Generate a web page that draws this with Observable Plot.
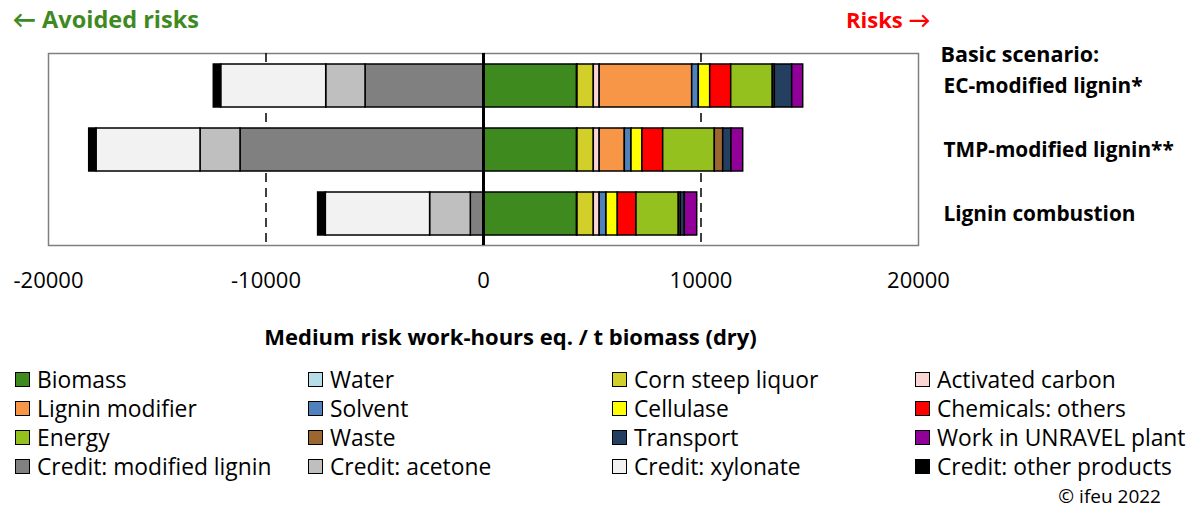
<!DOCTYPE html>
<html><head><meta charset="utf-8">
<script src="https://cdn.jsdelivr.net/npm/d3@7"></script>
<script src="https://cdn.jsdelivr.net/npm/@observablehq/plot@0.6"></script>
<style>
body{margin:0;background:#fff;font-family:"Open Sans",Lato,sans-serif;}
#wrap{position:relative;width:1199px;height:508px;overflow:hidden;}
#chart svg{display:block;}
#legend{position:absolute;left:15px;top:365px;display:grid;grid-template-columns:293px 304px 303px 290px;grid-auto-rows:29px;font-size:22.8px;color:#000;}
.item{display:flex;align-items:center;white-space:nowrap;}
.sw{width:13px;height:13px;border:1.5px solid #000;margin-right:7px;box-sizing:content-box;flex:none;}
#credit{position:absolute;right:38px;top:483px;font-size:19px;}
</style></head><body>
<div id="wrap"><div id="chart"></div><div id="legend"></div><div id="credit">© ifeu 2022</div></div>
<script>
const scenarios = ["EC-modified lignin*", "TMP-modified lignin**", "Lignin combustion"];
const categories = ["Biomass","Water","Corn steep liquor","Activated carbon","Lignin modifier","Solvent","Cellulase","Chemicals: others","Energy","Waste","Transport","Work in UNRAVEL plant","Credit: modified lignin","Credit: acetone","Credit: xylonate","Credit: other products"];
const colors = ["#3f8a1f","#b7dde8","#d3cf2a","#f9d6d4","#f79646","#4f81bd","#ffff00","#ff0000","#95c11f","#9c6631","#243f60","#92009a","#808080","#bfbfbf","#f2f2f2","#000000"];
const ecValues = [4300, 22, 749, 270, 4254, 304, 524, 966, 1912, 92, 800, 506, -5425, -1807, -4828, -340];
const tmpValues = [4300, 22, 749, 270, 1156, 308, 505, 952, 2373, 386, 381, 538, -11172, -1839, -4782, -336];
const combustionValues = [4300, 22, 749, 270, 0, 314, 520, 859, 1945, 92, 184, 570, -584, -1871, -4795, -354];
const xTicks = [-20000, -10000, 0, 10000, 20000];
const gridValues = [-10000, 10000];
const scenarioNote = "Basic scenario:";
const leftHeader = "\u2190 Avoided risks";
const rightHeader = "Risks \u2192";
const xTitle = "Medium risk work-hours eq. / t biomass (dry)";

const valueSets = [ecValues, tmpValues, combustionValues];
const rows = scenarios.flatMap((s, i) => categories.map((c, j) => ({scenario: s, category: c, value: valueSets[i][j]})));
const font = "'Open Sans', Lato, sans-serif";

const plot = Plot.plot({
  width: 1199,
  height: 360,
  marginTop: 53,
  marginBottom: 115,
  marginLeft: 48,
  marginRight: 281,
  style: {fontFamily: font, fontSize: "21px", color: "#000", background: "#fff"},
  x: {domain: [-20000, 20000]},
  y: {domain: scenarios, axis: null, paddingInner: 0.33, paddingOuter: 0.165},
  color: {domain: categories, range: colors},
  marks: [
    Plot.frame({stroke: "#7f7f7f", strokeWidth: 1.5}),
    Plot.ruleX(gridValues, {stroke: "#000", strokeWidth: 1.5, strokeDasharray: "9,6"}),
    Plot.barX(rows, Plot.stackX({x: "value", y: "scenario", fill: "category", stroke: "#000", strokeWidth: 1.5})),
    Plot.ruleX([0], {stroke: "#000", strokeWidth: 3}),
    Plot.axisX({ticks: xTicks, tickSize: 0, tickPadding: 27, tickFormat: d => String(d), fontSize: 22, label: null}),
    Plot.text(scenarios, {x: () => 20000, y: d => d, text: d => d, textAnchor: "start", dx: 25, fontWeight: "bold", fontSize: 20.8}),
    Plot.text([scenarioNote], {x: () => 20000, y: () => scenarios[0], text: d => d, textAnchor: "start", dx: 22, dy: -31, fontWeight: "bold", fontSize: 21.5}),
    Plot.text([leftHeader], {frameAnchor: "top-left", text: d => d, textAnchor: "start", lineAnchor: "middle", dx: -36, dy: -33, fill: "#3f8a1f", fontWeight: "bold", fontSize: 23.5}),
    Plot.text([rightHeader], {frameAnchor: "top-right", text: d => d, textAnchor: "end", lineAnchor: "middle", dx: 12, dy: -33, fill: "#ff0000", fontWeight: "bold", fontSize: 22}),
    Plot.text([xTitle], {frameAnchor: "bottom", text: d => d, textAnchor: "middle", lineAnchor: "middle", dx: 27, dy: 92, fontWeight: "bold", fontSize: 22})
  ]
});
document.getElementById("chart").appendChild(plot);

const legend = document.getElementById("legend");
categories.forEach((c, i) => {
  const item = document.createElement("div");
  item.className = "item";
  const sw = document.createElement("span");
  sw.className = "sw";
  sw.style.background = colors[i];
  const t = document.createElement("span");
  t.textContent = c;
  item.appendChild(sw); item.appendChild(t);
  legend.appendChild(item);
});
</script>
</body></html>
